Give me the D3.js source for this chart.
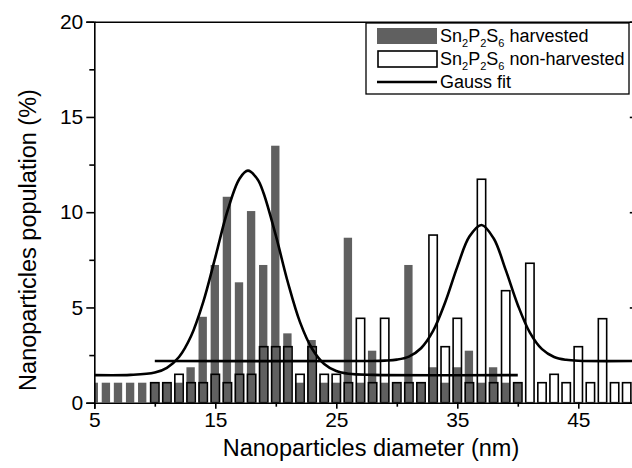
<!DOCTYPE html>
<html>
<head>
<meta charset="utf-8">
<script src="https://cdn.jsdelivr.net/npm/d3@7"></script>
<style>
  body { margin: 0; background: #fff; }
  svg, svg text { font-family: "Liberation Sans", Arial, sans-serif; }
</style>
</head>
<body>
<div id="chart"></div>
<script>
// bin centres (nm) and population (%)
const harvestedSize = d3.range(5, 41);
const harvestedPop = [1.05, 1.05, 1.05, 1.05, 1.05, 1.05, 1.05, 1.05, 1.86, 4.51,
  7.23, 10.81, 6.32, 10.06, 7.23, 13.49, 3.64, 1.05, 3.29, 1.05,
  1.05, 8.66, 1.05, 2.73, 1.05, 1.05, 7.23, 1.05, 1.86, 1.05,
  1.86, 2.73, 1.05, 1.86, 1.05, 1.05];

const nonHarvestedSize = d3.range(10, 50);
const nonHarvestedPop = [1.05, 1.05, 1.49, 1.05, 1.05, 1.49, 1.05, 1.49, 1.49, 2.94,
  2.94, 2.94, 1.49, 2.94, 1.49, 1.49, 1.05, 4.43, 1.05, 4.43,
  1.05, 1.05, 1.05, 8.80, 2.94, 4.43, 1.05, 11.73, 1.05, 5.88,
  1.05, 7.32, 1.05, 1.49, 1.05, 2.94, 1.05, 4.41, 1.05, 1.05];

// Gauss fit curves
const fitHarvX = [5, 8, 10, 11, 12, 13, 14, 15, 16, 17, 17.7, 18.5, 19, 20, 21, 22, 23, 24, 25, 26, 28, 40];
const fitHarvY = [1.45, 1.46, 1.58, 1.83, 2.40, 3.50, 5.28, 7.63, 10.05, 11.76, 12.18, 11.72, 10.98, 8.78, 6.31, 4.23, 2.83, 2.03, 1.66, 1.52, 1.46, 1.45];
const fitNonX = [10, 28, 29, 30, 31, 32, 33, 34, 35, 36, 37, 38, 39, 40, 41, 42, 43, 44, 45, 50];
const fitNonY = [2.19, 2.19, 2.21, 2.26, 2.42, 2.86, 3.77, 5.27, 7.13, 8.72, 9.33, 8.63, 6.97, 5.13, 3.68, 2.81, 2.40, 2.25, 2.20, 2.19];

const xMajor = [5, 15, 25, 35, 45];
const xMinor = [10, 20, 30, 40];
const yMajor = [0, 5, 10, 15, 20];
const yMinor = [2.5, 7.5, 12.5, 17.5];

const W = 632, H = 468;
const FONT = '"Liberation Sans", Arial, sans-serif';
const x = d3.scaleLinear().domain([5, 50]).range([94.3, 638.8]);
const y = d3.scaleLinear().domain([0, 20]).range([402.7, 21.7]);
const barW = x(5.69) - x(5);

const svg = d3.select("#chart").append("svg")
  .attr("width", W).attr("height", H);

svg.append("clipPath").attr("id", "plot")
  .append("rect")
  .attr("x", x(5)).attr("y", y(20))
  .attr("width", x(50) - x(5)).attr("height", y(0) - y(20));

const plot = svg.append("g").attr("clip-path", "url(#plot)");

// harvested: solid grey bars
plot.selectAll(".harv")
  .data(harvestedSize.map((s, i) => [s, harvestedPop[i]]))
  .enter().append("rect")
  .attr("class", "harv")
  .attr("x", d => x(d[0]) - barW / 2 - 0.5)
  .attr("width", barW)
  .attr("y", d => y(d[1]))
  .attr("height", d => y(0) - y(d[1]))
  .attr("fill", "#606060");

// non-harvested: open bars on top
plot.selectAll(".non")
  .data(nonHarvestedSize.map((s, i) => [s, nonHarvestedPop[i]]))
  .enter().append("rect")
  .attr("class", "non")
  .attr("x", d => x(d[0]) - barW / 2)
  .attr("width", barW)
  .attr("y", d => y(d[1]))
  .attr("height", d => y(0) - y(d[1]))
  .attr("fill", "none")
  .attr("stroke", "#000")
  .attr("stroke-width", 1.6);

const line = d3.line()
  .x(d => x(d[0])).y(d => y(d[1]))
  .curve(d3.curveCatmullRom);

plot.append("path")
  .attr("d", line(fitHarvX.map((v, i) => [v, fitHarvY[i]])))
  .attr("fill", "none").attr("stroke", "#000").attr("stroke-width", 2.6);
plot.append("path")
  .attr("d", line(fitNonX.map((v, i) => [v, fitNonY[i]])))
  .attr("fill", "none").attr("stroke", "#000").attr("stroke-width", 2.6);

// axes
const fmt = d3.format("d");
svg.append("g").attr("transform", `translate(0,${y(0)})`)
  .call(d3.axisBottom(x).tickValues(xMajor).tickSize(6).tickPadding(3).tickFormat(fmt));
svg.append("g").attr("transform", `translate(0,${y(0)})`)
  .call(d3.axisBottom(x).tickValues(xMinor).tickSize(4).tickFormat(""))
  .select(".domain").remove();

svg.append("g").attr("transform", `translate(${x(5)},0)`)
  .call(d3.axisLeft(y).tickValues(yMajor).tickSize(8).tickPadding(3).tickFormat(fmt));
svg.append("g").attr("transform", `translate(${x(5)},0)`)
  .call(d3.axisLeft(y).tickValues(yMinor).tickSize(5).tickFormat(""))
  .select(".domain").remove();

// top and right frame
svg.append("g").attr("transform", `translate(0,${y(20)})`)
  .call(d3.axisTop(x).tickValues([]).tickSizeOuter(0));
svg.append("g").attr("transform", `translate(${x(50)},0)`)
  .call(d3.axisRight(y).tickValues(yMajor).tickSize(-9).tickSizeOuter(0).tickFormat(""));

svg.selectAll(".domain, .tick line")
  .attr("stroke", "#000").attr("stroke-width", 1.6);
svg.selectAll(".tick text")
  .attr("fill", "#000")
  .attr("font-family", FONT)
  .style("font-size", "21px");

svg.append("text")
  .attr("x", 371).attr("y", 456)
  .attr("text-anchor", "middle")
  .style("font-size", "23.5px")
  .text("Nanoparticles diameter (nm)");

svg.append("text")
  .attr("transform", `translate(36,240) rotate(-90)`)
  .attr("text-anchor", "middle")
  .style("font-size", "23.5px")
  .text("Nanoparticles population (%)");

// legend
const lg = svg.append("g").attr("transform", "translate(366,23)");
lg.append("rect")
  .attr("width", 263).attr("height", 71)
  .attr("fill", "#fff").attr("stroke", "#000").attr("stroke-width", 1.3);

const items = [
  { kind: "solid", name: " harvested" },
  { kind: "open", name: " non-harvested" },
  { kind: "line", name: "Gauss fit" }
];

items.forEach((it, i) => {
  const cy = 13 + i * 23;
  if (it.kind === "solid") {
    lg.append("rect").attr("x", 11).attr("y", cy - 8).attr("width", 60).attr("height", 16)
      .attr("fill", "#606060");
  } else if (it.kind === "open") {
    lg.append("rect").attr("x", 12).attr("y", cy - 8).attr("width", 59).attr("height", 16)
      .attr("fill", "none").attr("stroke", "#000").attr("stroke-width", 1.6);
  } else {
    lg.append("line").attr("x1", 11).attr("x2", 71).attr("y1", cy).attr("y2", cy)
      .attr("stroke", "#000").attr("stroke-width", 2.6);
  }
  const t = lg.append("text").attr("x", 74).attr("y", cy + 6).style("font-size", "18px");
  if (it.kind === "line") {
    t.text(it.name);
  } else {
    t.append("tspan").text("Sn");
    t.append("tspan").attr("dy", 5).style("font-size", "11px").text("2");
    t.append("tspan").attr("dy", -5).text("P");
    t.append("tspan").attr("dy", 5).style("font-size", "11px").text("2");
    t.append("tspan").attr("dy", -5).text("S");
    t.append("tspan").attr("dy", 5).style("font-size", "11px").text("6");
    t.append("tspan").attr("dy", -5).text(it.name);
  }
});
</script>
</body>
</html>
